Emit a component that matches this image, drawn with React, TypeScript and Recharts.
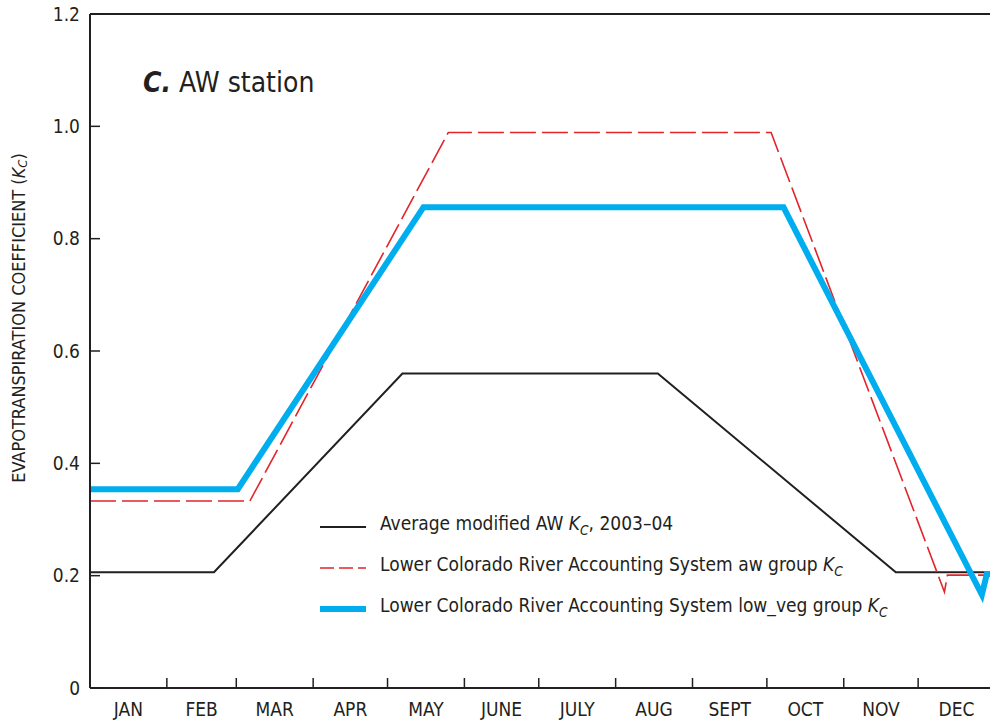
import React from 'react';
import { LineChart, Line, XAxis, YAxis } from 'recharts';

// month boundaries (day of year) and labels
const monthLabels = ['JAN', 'FEB', 'MAR', 'APR', 'MAY', 'JUNE', 'JULY', 'AUG', 'SEPT', 'OCT', 'NOV', 'DEC'];
const monthStarts = [0, 31, 59, 90, 120, 151, 181, 212, 243, 273, 304, 334, 365];
const yTicks = [0, 0.2, 0.4, 0.6, 0.8, 1.0, 1.2];

// Average modified AW Kc, 2003-04
const avgDays = [0, 50, 126, 229, 325, 365];
const avgKc = [0.206, 0.206, 0.56, 0.56, 0.206, 0.206];

// LCRAS aw group Kc
const awDays = [0, 64.5, 144.5, 274.7, 344.6, 345.8, 365];
const awKc = [0.333, 0.333, 0.989, 0.989, 0.171, 0.201, 0.201];

// LCRAS low_veg group Kc
const lowDays = [0, 59.6, 134.5, 279.7, 359.7, 361.7, 365];
const lowKc = [0.354, 0.354, 0.856, 0.856, 0.166, 0.203, 0.203];

const toRows = (days: number[], kc: number[]) => days.map((d, i) => ({ day: d, kc: kc[i] }));

const midMonths = monthLabels.map((_, i) => (monthStarts[i] + monthStarts[i + 1]) / 2);
const innerStarts = monthStarts.slice(1, -1);
const bottomTicks = [...innerStarts, ...midMonths].sort((a, b) => a - b);

const FONT = '"Liberation Sans Narrow", "DejaVu Sans Condensed", "Liberation Sans", sans-serif';
const INK = '#231f20';
const RED = '#e2242b';
const BLUE = '#00aeef';
const TICK_LEN = 10;
const X_MARGIN = 14;

const fmtKc = (v: number) => (v === 0 ? '0' : v.toFixed(1));
const blank = () => '';

// bottom axis: month names centred in each month, short inward marks at month boundaries
const MonthTick = (props: any) => {
  const { x, y, payload } = props;
  const i = midMonths.indexOf(payload.value);
  if (i >= 0) {
    return (
      <text x={x} y={y} dy="0.75em" textAnchor="middle" fontFamily={FONT} fontSize={19} fill={INK}>
        {monthLabels[i]}
      </text>
    );
  }
  const axisY = y - X_MARGIN;
  return <line x1={x} x2={x} y1={axisY} y2={axisY - TICK_LEN} stroke={INK} strokeWidth={1.5} />;
};

const Kc = () => (
  <>
    <i>K</i>
    <sub style={{ fontStyle: 'italic', fontSize: '0.72em' }}>C</sub>
  </>
);

const legendItems = [
  { key: 'avg', label: <>Average modified AW <Kc />, 2003–04</>, color: INK, width: 2, dash: undefined },
  { key: 'aw', label: <>Lower Colorado River Accounting System aw group <Kc /></>, color: RED, width: 1.6, dash: '14 5' },
  { key: 'low', label: <>Lower Colorado River Accounting System low_veg group <Kc /></>, color: BLUE, width: 6, dash: undefined },
];

const ChartLegend = () => (
  <div style={{ position: 'absolute', left: 320, top: 506, fontFamily: FONT, fontSize: 19, color: INK }}>
    {legendItems.map((it) => (
      <div key={it.key} style={{ display: 'flex', alignItems: 'center', height: 41, lineHeight: '20px', whiteSpace: 'nowrap' }}>
        <svg width={60} height={12} style={{ flexShrink: 0 }}>
          <line x1={0} x2={46} y1={6} y2={6} stroke={it.color} strokeWidth={it.width} strokeDasharray={it.dash} />
        </svg>
        <span>{it.label}</span>
      </div>
    ))}
  </div>
);

const YLabel = () => (
  <text
    x={18}
    y={318}
    transform="rotate(-90, 18, 318)"
    textAnchor="middle"
    dominantBaseline="central"
    fontFamily={FONT}
    fontSize={18}
    fill={INK}
  >
    EVAPOTRANSPIRATION COEFFICIENT (<tspan fontStyle="italic">K</tspan>
    <tspan fontStyle="italic" fontSize={13} dy={4}>C</tspan>
    <tspan dy={-4}>)</tspan>
  </text>
);

export default function App() {
  return (
    <div style={{ position: 'absolute', left: 0, top: 0, width: 990, height: 727, overflow: 'hidden', background: '#fff' }}>
      <LineChart width={1000} height={727} margin={{ top: 13, right: 4, bottom: 0, left: 0 }}>
        <XAxis
          xAxisId="lab"
          dataKey="day"
          type="number"
          domain={[0, 365]}
          ticks={bottomTicks}
          tick={<MonthTick />}
          tickLine={false}
          tickSize={0}
          tickMargin={X_MARGIN}
          interval={0}
          height={39}
          axisLine={{ stroke: INK, strokeWidth: 2 }}
        />
        <XAxis
          xAxisId="top"
          orientation="top"
          dataKey="day"
          type="number"
          domain={[0, 365]}
          ticks={innerStarts}
          tickFormatter={blank}
          interval={0}
          height={1}
          tickSize={-TICK_LEN}
          axisLine={{ stroke: INK, strokeWidth: 2 }}
          tickLine={{ stroke: INK, strokeWidth: 1.5 }}
        />
        <YAxis
          yAxisId="l"
          type="number"
          domain={[0, 1.2]}
          ticks={yTicks}
          tickFormatter={fmtKc}
          interval={0}
          width={90}
          tickSize={-TICK_LEN}
          tickMargin={TICK_LEN + 10}
          axisLine={{ stroke: INK, strokeWidth: 2 }}
          tickLine={{ stroke: INK, strokeWidth: 1.5 }}
          tick={{ fill: INK, fontSize: 19, fontFamily: FONT }}
          label={{ content: () => <YLabel /> }}
        />
        <YAxis
          yAxisId="r"
          orientation="right"
          type="number"
          domain={[0, 1.2]}
          ticks={yTicks.slice(1, -1)}
          tickFormatter={blank}
          interval={0}
          width={1}
          tickSize={-TICK_LEN}
          axisLine={{ stroke: INK, strokeWidth: 2 }}
          tickLine={{ stroke: INK, strokeWidth: 1.5 }}
        />
        <Line
          xAxisId="lab"
          yAxisId="l"
          data={toRows(avgDays, avgKc)}
          dataKey="kc"
          type="linear"
          stroke={INK}
          strokeWidth={2}
          dot={false}
          isAnimationActive={false}
        />
        <Line
          xAxisId="lab"
          yAxisId="l"
          data={toRows(awDays, awKc)}
          dataKey="kc"
          type="linear"
          stroke={RED}
          strokeWidth={1.6}
          strokeDasharray="26 6"
          dot={false}
          isAnimationActive={false}
        />
        <Line
          xAxisId="lab"
          yAxisId="l"
          data={toRows(lowDays, lowKc)}
          dataKey="kc"
          type="linear"
          stroke={BLUE}
          strokeWidth={6}
          dot={false}
          isAnimationActive={false}
        />
      </LineChart>
      <ChartLegend />
      <div
        style={{
          position: 'absolute',
          left: 143,
          top: 69,
          fontFamily: FONT,
          fontSize: 28,
          color: INK,
          lineHeight: 1,
          whiteSpace: 'nowrap',
        }}
      >
        <b><i>C.</i></b> AW station
      </div>
    </div>
  );
}
